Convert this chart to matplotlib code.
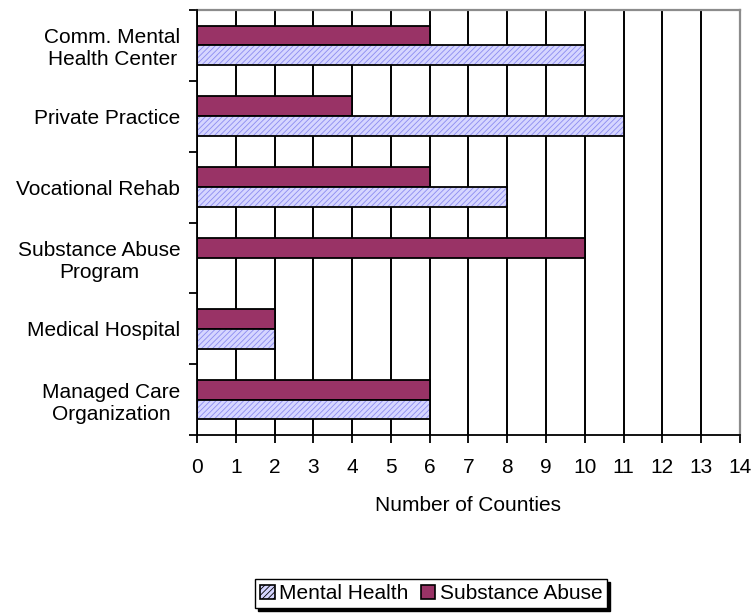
"""Counties offering mental health / substance abuse services, by provider type."""

import matplotlib

matplotlib.use("Agg")
import matplotlib.pyplot as plt
import numpy as np
from matplotlib.patches import Patch

plt.rcParams["font.family"] = ["Liberation Sans", "DejaVu Sans"]
plt.rcParams["hatch.linewidth"] = 0.6

# Top to bottom, as drawn.
CATEGORIES = [
    "Comm. Mental\nHealth Center",
    "Private Practice",
    "Vocational Rehab",
    "Substance Abuse\nProgram",
    "Medical Hospital",
    "Managed Care\nOrganization",
]
MENTAL_HEALTH = [10, 11, 8, 0, 2, 6]
SUBSTANCE_ABUSE = [6, 4, 6, 10, 2, 6]
X_TICKS = list(range(0, 15))

SA_COLOR = "#993366"
MH_FACE = "#d6d6ff"
MH_HATCH = "#8c8cf0"
BAR_H = 0.28


def main() -> None:
    fig = plt.figure(figsize=(7.54, 6.15), dpi=100)
    ax = fig.add_axes([0.2613, 0.2927, 0.7201, 0.691])

    n = len(CATEGORIES)
    y = np.arange(n)[::-1].astype(float)

    ax.barh(y + BAR_H / 2, SUBSTANCE_ABUSE, height=BAR_H, color=SA_COLOR,
            edgecolor="black", linewidth=1.3, zorder=3)
    # hatched fill first, black outline on top
    ax.barh(y - BAR_H / 2, MENTAL_HEALTH, height=BAR_H, color=MH_FACE,
            edgecolor=MH_HATCH, hatch="//////", linewidth=0, zorder=3)
    mh_widths = np.array(MENTAL_HEALTH, dtype=float)
    keep = mh_widths > 0
    ax.barh((y - BAR_H / 2)[keep], mh_widths[keep], height=BAR_H, fill=False,
            edgecolor="black", linewidth=1.3, zorder=4)

    ax.set_xlim(0, 14)
    ax.set_ylim(-0.5, n - 0.5)
    ax.set_xticks(X_TICKS)
    ax.set_yticks(y)
    ax.set_yticklabels(CATEGORIES, multialignment="center")
    ax.set_yticks(np.arange(n + 1) - 0.5, minor=True)

    ax.tick_params(axis="x", direction="out", length=5.5, width=1.3,
                   labelsize=15, pad=11, color="black")
    ax.tick_params(axis="y", which="major", length=0, labelsize=15, pad=12)
    ax.tick_params(axis="y", which="minor", direction="out", length=5.5, width=1.3)

    ax.xaxis.grid(True, color="black", linewidth=1.4)
    ax.set_axisbelow(True)

    for side in ("left", "bottom"):
        ax.spines[side].set_color("black")
        ax.spines[side].set_linewidth(1.3)
        ax.spines[side].set_zorder(5)
    for side in ("top", "right"):
        ax.spines[side].set_color("#8c8c8c")
        ax.spines[side].set_linewidth(1.6)

    ax.set_xlabel("Number of Counties", fontsize=15, labelpad=14)

    handles = [
        Patch(facecolor=MH_FACE, edgecolor="black", hatch="//////", linewidth=1.2,
              label="Mental Health"),
        Patch(facecolor=SA_COLOR, edgecolor="black", linewidth=1.2,
              label="Substance Abuse"),
    ]
    leg = fig.legend(handles=handles, loc="center", bbox_to_anchor=(0.572, 0.0345),
                     ncol=2, fontsize=15, frameon=True, fancybox=False,
                     shadow={"color": "black", "alpha": 1.0}, handlelength=0.7,
                     handleheight=0.7, handletextpad=0.2, columnspacing=0.6,
                     borderpad=0.25, borderaxespad=0)
    leg.get_frame().set_edgecolor("black")
    leg.get_frame().set_linewidth(1.0)

    fig.savefig("out.png", dpi=100)
    plt.close(fig)


if __name__ == "__main__":
    main()
